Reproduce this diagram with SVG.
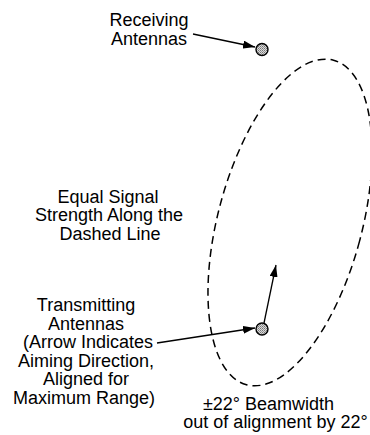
<svg xmlns="http://www.w3.org/2000/svg" width="370" height="435" viewBox="0 0 370 435">
<style>
text{font-family:"Liberation Sans",Arial,Helvetica,sans-serif;font-size:18px;fill:#000;text-anchor:middle}
.ln{stroke:#000;stroke-width:1.3;fill:none}
.ant{fill:url(#dots);stroke:#000;stroke-width:1.4}
.beam{fill:none;stroke:#000;stroke-width:1.5;stroke-dasharray:8 5}
</style>
<defs>
<pattern id="dots" width="2" height="2" patternUnits="userSpaceOnUse">
<rect width="2" height="2" fill="#d8d8d8"/>
<rect width="1" height="1" fill="#777"/>
<rect x="1" y="1" width="1" height="1" fill="#999"/>
</pattern>
<marker id="ah" viewBox="0 0 12 8" refX="12" refY="4" markerWidth="12" markerHeight="8" markerUnits="userSpaceOnUse" orient="auto">
<path d="M0,0 L12,4 L0,8 Z" fill="#000"/>
</marker>
</defs>
<rect width="370" height="435" fill="#fff"/>
<g id="beam">
<ellipse class="beam" cx="290" cy="222.5" rx="72" ry="168" transform="rotate(15 290 222.5)"/>
</g>
<g id="connectors">
<line class="ln" x1="193" y1="34" x2="255" y2="47" marker-end="url(#ah)"/>
<line class="ln" x1="157" y1="343" x2="255" y2="328" marker-end="url(#ah)"/>
<line class="ln" x1="264" y1="323" x2="276" y2="265" marker-end="url(#ah)"/>
</g>
<g id="receiving">
<circle class="ant" cx="262" cy="49.5" r="6"/>
<text x="149" y="26">Receiving</text>
<text x="149" y="45">Antennas</text>
</g>
<g id="transmitting">
<circle class="ant" cx="262" cy="329" r="6"/>
<text x="86" y="311">Transmitting</text>
<text x="86" y="329.5">Antennas</text>
<text x="88" y="348">(Arrow Indicates</text>
<text x="86" y="366.5">Aiming Direction,</text>
<text x="86" y="385">Aligned for</text>
<text x="84" y="403.5">Maximum Range)</text>
</g>
<g id="equal-note">
<text x="108" y="202.5">Equal Signal</text>
<text x="109" y="221">Strength Along the</text>
<text x="110" y="239.5">Dashed Line</text>
</g>
<g id="beam-note">
<text x="268.5" y="410">±22° Beamwidth</text>
<text x="275.5" y="428">out of alignment by 22°</text>
</g>
</svg>
